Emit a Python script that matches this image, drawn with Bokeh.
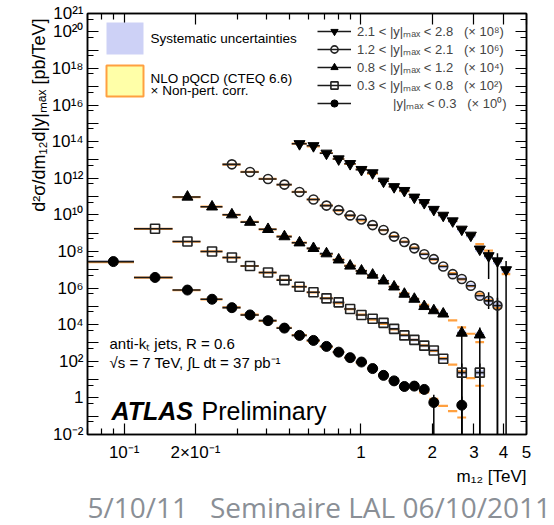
import math
from bokeh.plotting import figure
from bokeh.models import (ColumnDataSource, FixedTicker, LogAxis, Label, Legend,
                          LegendItem, BoxAnnotation, Range1d, Title)
from bokeh.embed import file_html
from bokeh.resources import INLINE

nan = float("nan")

# dijet mass bin edges [TeV]
bin_edges = [0.07, 0.11, 0.16, 0.21, 0.26, 0.31, 0.37, 0.44, 0.51, 0.59, 0.67, 0.76,
             0.85, 0.95, 1.06, 1.18, 1.31, 1.45, 1.60, 1.76, 1.94, 2.12, 2.33, 2.55,
             2.78, 3.04, 3.31, 3.61, 3.93, 4.27, 4.64]

# relative systematic uncertainty per bin
sys_rel = [0.15, 0.12, 0.11, 0.11, 0.11, 0.11, 0.12, 0.12, 0.12, 0.13, 0.13, 0.14, 0.15,
           0.16, 0.17, 0.18, 0.19, 0.20, 0.22, 0.24, 0.26, 0.28, 0.30, 0.33, 0.36, 0.40,
           0.45, 0.50, 0.55, 0.60]

# |y|max < 0.3  (x 10^0)
y03_first = 0
y03_data = [2.8e7, 3.8e6, 7.8e5, 2.45e5, 8.5e4, 3.4e4, 1.66e4, 6.5e3, 2.6e3, 1.38e3, 650, 316,
            158, 91, 40, 17, 8.5, 4.2, 4.4, 2.9, 0.56, nan, nan, 0.40]
y03_theory = [2.6e7, 3.7e6, 7.6e5, 2.4e5, 8.8e4, 3.5e4, 1.6e4, 6.8e3, 2.7e3, 1.3e3, 620, 320,
              160, 82, 40, 19, 9.0, 4.4, 3.6, 2.0, 0.9, 0.37, 0.19, 0.085]
y03_err_bin = [20, 23]
y03_err_lo = [1e-3, 1e-3]
y03_err_hi = [1.5, 1.2]

# 0.3 < |y|max < 0.8  (x 10^2)
y08_first = 1
y08_data = [1.74e9, 3.5e8, 1.0e8, 4.7e7, 1.6e7, 7.1e6, 2.7e6, 1.17e6, 5.9e5, 2.75e5, 1.66e5,
            7.2e4, 3.4e4, 2.1e4, 1.26e4, 5.9e3, 2.6e3, 1.48e3, 720, 390, 138, nan, 24, nan, 24]
y08_theory = [1.7e9, 3.4e8, 1.0e8, 4.6e7, 1.6e7, 7.0e6, 2.8e6, 1.2e6, 5.8e5, 2.8e5, 1.5e5,
              7.0e4, 3.5e4, 1.9e4, 1.1e4, 5.6e3, 2.8e3, 1.5e3, 740, 370, 150, 66, 28, 12, 4.6]
y08_err_bin = [23, 25]
y08_err_lo = [1e-3, 1e-3]
y08_err_hi = [75, 75]

# 0.8 < |y|max < 1.2  (x 10^4)
y12_first = 2
y12_data = [9.5e10, 2.75e10, 1.02e10, 4.0e9, 1.62e9, 6.5e8, 3.0e8, 1.48e8, 7.6e7, 3.5e7,
            1.62e7, 8.7e6, 5.2e6, 2.5e6, 1.17e6, 4.7e5, 2.5e5, 1.0e5, 5.9e4, 3.9e4, nan,
            3.5e3, nan, 2.8e3]
y12_theory = [9.3e10, 2.8e10, 1.0e10, 4.1e9, 1.6e9, 6.6e8, 3.0e8, 1.45e8, 7.2e7, 3.6e7,
              1.7e7, 8.8e6, 4.8e6, 2.4e6, 1.2e6, 5.2e5, 2.6e5, 1.2e5, 6.4e4, 3.6e4, 1.7e4,
              7.2e3, 3.2e3, 1.1e3]
y12_err_bin = [23, 25]
y12_err_lo = [1e-3, 1e-3]
y12_err_hi = [8e3, 7e3]

# 1.2 < |y|max < 2.1  (x 10^6)
y21_first = 4
y21_data = [5.75e12, 2.2e12, 9.1e11, 4.5e11, 1.78e11, 6.9e10, 3.2e10, 1.82e10, 9.3e9, 5.6e9,
            2.75e9, 1.48e9, 6.5e8, 3.3e8, 1.48e8, 7.1e7, 3.8e7, 1.51e7, 5.75e6, 3.1e6,
            1.35e6, 3.8e5, 2.0e5, 1.1e5]
y21_theory = [5.6e12, 2.2e12, 9.3e11, 4.4e11, 1.8e11, 7.0e10, 3.3e10, 1.7e10, 9.0e9, 5.0e9,
              2.7e9, 1.45e9, 6.8e8, 3.5e8, 1.6e8, 7.5e7, 3.6e7, 1.6e7, 6.5e6, 3.0e6, 1.3e6,
              5.0e5, 2.2e5, 8.0e4]
y21_err_bin = [26, 27]
y21_err_lo = [7.2e4, 1e-3]
y21_err_hi = [6.0e5, 3.0e5]

# 2.1 < |y|max < 2.8  (x 10^8)
y28_first = 8
y28_data = [7.6e13, 5.9e13, 2.3e13, 1.12e13, 6.2e12, 2.95e12, 1.95e12, 6.8e11, 3.4e11, 2.1e11,
            9.1e10, 4.6e10, 1.95e10, 9.3e9, 4.6e9, 1.62e9, 7.6e8, 1.32e8, 5.75e7, 3.0e7, 9.8e6]
y28_theory = [7.8e13, 5.5e13, 2.4e13, 1.15e13, 6.0e12, 3.1e12, 1.8e12, 7.2e11, 3.6e11, 2.0e11,
              9.5e10, 4.6e10, 2.1e10, 1.0e10, 4.6e9, 2.0e9, 9.0e8, 2.5e8, 1.1e8, 3.2e7, 5.8e6]
y28_err_bin = [26, 27, 28]
y28_err_lo = [3.1e6, 1e-3, 1e-3]
y28_err_hi = [1.2e8, 8e7, 3e7]

series_labels = [
    "2.1 < |y|\u2098\u2090\u2093 < 2.8\u00a0\u00a0\u00a0(\u00d7 10\u2078)",
    "1.2 < |y|\u2098\u2090\u2093 < 2.1\u00a0\u00a0\u00a0(\u00d7 10\u2076)",
    "0.8 < |y|\u2098\u2090\u2093 < 1.2\u00a0\u00a0\u00a0(\u00d7 10\u2074)",
    "0.3 < |y|\u2098\u2090\u2093 < 0.8\u00a0\u00a0\u00a0(\u00d7 10\u00b2)",
    "\u00a0" * 10 + "|y|\u2098\u2090\u2093 < 0.3\u00a0\u00a0\u00a0(\u00d7 10\u2070)",
]
y_title = "d\u00b2\u03c3/dm\u2081\u2082d|y|\u2098\u2090\u2093  [pb/TeV]"
x_title = "m\u2081\u2082 [TeV]"

x_major = [0.1, 0.2, 1, 2, 3, 4, 5]
x_minor = [0.07, 0.08, 0.09, 0.3, 0.4, 0.5, 0.6, 0.7, 0.8, 0.9]
x_labels = {0.1: "10\u207b\u00b9", 0.2: "2\u00d710\u207b\u00b9", 1: "1", 2: "2", 3: "3",
            4: "4", 5: "5"}

y_major = [1e-2, 1e-1, 1e0, 1e1, 1e2, 1e3, 1e4, 1e5, 1e6, 1e7, 1e8, 1e9, 1e10, 1e11, 1e12,
           1e13, 1e14, 1e15, 1e16, 1e17, 1e18, 1e19, 1e20, 1e21]
y_minor = [5e-2, 5e-1, 5e0, 5e1, 5e2, 5e3, 5e4, 5e5, 5e6, 5e7, 5e8, 5e9, 5e10, 5e11, 5e12,
           5e13, 5e14, 5e15, 5e16, 5e17, 5e18, 5e19, 5e20]
y_labels = {1e-2: "10\u207b\u00b2", 1e0: "1", 1e2: "10\u00b2", 1e4: "10\u2074",
            1e6: "10\u2076", 1e8: "10\u2078", 1e10: "10\u00b9\u2070", 1e12: "10\u00b9\u00b2",
            1e14: "10\u00b9\u2074", 1e16: "10\u00b9\u2076", 1e18: "10\u00b9\u2078",
            1e20: "10\u00b2\u2070", 1e21: "10\u00b2\u00b9"}

FONT = "Liberation Sans"
SYS_COLOR = "#cdd1f6"
TH_COLOR = "#ffa040"

p = figure(width=554, height=525, x_axis_type="log", y_axis_type="log",
           x_range=Range1d(0.07, 5), y_range=Range1d(1e-2, 1e21),
           output_backend="svg", toolbar_location=None,
           min_border_left=87, min_border_right=28, min_border_top=13, min_border_bottom=89)
p.xgrid.visible = False
p.ygrid.visible = False
p.outline_line_color = "black"
p.outline_line_width = 1.5
p.background_fill_color = "white"
p.border_fill_color = "white"

bottom_axis = p.below[0]
left_axis = p.left[0]
top_axis = LogAxis()
right_axis = LogAxis()
p.add_layout(top_axis, "above")
p.add_layout(right_axis, "right")

for ax, ticks, minor, labels in [(bottom_axis, x_major, x_minor, x_labels),
                                 (top_axis, x_major, x_minor, {}),
                                 (left_axis, y_major, y_minor, y_labels),
                                 (right_axis, y_major, y_minor, {})]:
    ax.ticker = FixedTicker(ticks=ticks, minor_ticks=minor)
    ax.major_tick_in = 11
    ax.major_tick_out = 0
    ax.minor_tick_in = 6
    ax.minor_tick_out = 0
    ax.axis_line_width = 1.5
    ax.major_tick_line_width = 1.2
    ax.minor_tick_line_width = 1.2
    ax.axis_label = None
    ax.major_label_overrides = {t: labels.get(t, "") for t in ticks}
    ax.major_label_text_font = FONT
    ax.major_label_text_font_size = "17px"
    ax.major_label_text_color = "black"

bottom_axis.major_label_standoff = 8
left_axis.major_label_standoff = 4
top_axis.major_label_standoff = 0
right_axis.major_label_standoff = 0

# y-axis title, at the top end of the axis
y_title_done = False
try:
    left_axis.axis_label_align = "right"
    left_axis.axis_label = y_title
    left_axis.axis_label_standoff = -8
    left_axis.axis_label_text_font = FONT
    left_axis.axis_label_text_font_size = "18px"
    left_axis.axis_label_text_font_style = "normal"
    left_axis.axis_label_text_color = "black"
    y_title_done = True
except Exception:
    left_axis.axis_label = None

series = [
    ("y28", y28_first, y28_data, y28_theory, y28_err_bin, y28_err_lo, y28_err_hi,
     "inverted_triangle", True, 11),
    ("y21", y21_first, y21_data, y21_theory, y21_err_bin, y21_err_lo, y21_err_hi,
     "circle", False, 10),
    ("y12", y12_first, y12_data, y12_theory, y12_err_bin, y12_err_lo, y12_err_hi,
     "triangle", True, 11),
    ("y08", y08_first, y08_data, y08_theory, y08_err_bin, y08_err_lo, y08_err_hi,
     "square", False, 10),
    ("y03", y03_first, y03_data, y03_theory, y03_err_bin, y03_err_lo, y03_err_hi,
     "circle", True, 10),
]

srcs = []
for name, first, data, theory, eb, elo, ehi, marker, filled, size in series:
    n_th = len(theory)
    left = bin_edges[first:first + n_th]
    right = bin_edges[first + 1:first + 1 + n_th]
    center = [(a + b) / 2 for a, b in zip(left, right)]
    dat = list(data) + [nan] * (n_th - len(data))
    rel = sys_rel[first:first + n_th]
    s_top = [d * (1 + r) for d, r in zip(dat, rel)]
    s_bot = [d / (1 + r) for d, r in zip(dat, rel)]
    src = ColumnDataSource(dict(left=left, right=right, x=center, y=dat, th=list(theory),
                                top=s_top, bot=s_bot))
    srcs.append((name, src, marker, filled, size, eb, elo, ehi, first))

for name, src, *_ in srcs:
    p.quad(left="left", right="right", top="top", bottom="bot", source=src,
           fill_color=SYS_COLOR, line_color=None)
for name, src, *_ in srcs:
    p.segment(x0="left", x1="right", y0="th", y1="th", source=src,
              line_color=TH_COLOR, line_width=2.2)
rend = {}
for name, src, marker, filled, size, eb, elo, ehi, first in srcs:
    xr = p.segment(x0="left", x1="right", y0="y", y1="y", source=src,
                   line_color="#1a1a1a", line_width=1.6)
    ex = [(bin_edges[i] + bin_edges[i + 1]) / 2 for i in eb]
    p.segment(x0=ex, x1=ex, y0=elo, y1=ehi, line_color="black", line_width=1.5)
    if filled:
        mr = p.scatter(x="x", y="y", source=src, marker=marker, size=size,
                       fill_color="black", line_color="black")
    else:
        mr = p.scatter(x="x", y="y", source=src, marker=marker, size=size - 1,
                       fill_alpha=0, line_color="#222222", line_width=1.6)
    rend[name] = (xr, mr)

order = ["y28", "y21", "y12", "y08", "y03"]
legend_items = [LegendItem(label=lab, renderers=list(rend[nm]))
                for lab, nm in zip(series_labels, order)]

legend = Legend(items=legend_items, location=(230, 322), glyph_width=34, glyph_height=18,
                label_height=18, spacing=0, padding=0, margin=0, label_standoff=6,
                background_fill_alpha=0, border_line_alpha=0,
                label_text_font=FONT, label_text_font_size="13px")
p.add_layout(legend)

p.add_layout(BoxAnnotation(left=19, right=56, top=412, bottom=380, left_units="screen",
                           right_units="screen", top_units="screen", bottom_units="screen",
                           fill_color=SYS_COLOR, fill_alpha=1, line_color=None))
p.add_layout(BoxAnnotation(left=19, right=56, top=369, bottom=338, left_units="screen",
                           right_units="screen", top_units="screen", bottom_units="screen",
                           fill_color="#ffffa8", fill_alpha=1, line_color=TH_COLOR,
                           line_width=2, line_alpha=1))


def add_text(txt, x, y, size, font=FONT, style="normal", color="black", align="left",
             baseline="middle", angle=0.0):
    p.add_layout(Label(x=x, y=y, x_units="screen", y_units="screen", text=txt,
                       text_font=font, text_font_size=size, text_font_style=style,
                       text_color=color, text_align=align, text_baseline=baseline,
                       angle=angle))


add_text("Systematic uncertainties", 63, 396, "13.5px")
add_text("NLO pQCD (CTEQ 6.6)", 63, 356, "13.5px")
add_text("\u00d7 Non-pert. corr.", 63, 344, "13.5px")
add_text("anti-k\u209c  jets,  R = 0.6", 22, 91, "15px")
add_text("\u221as = 7 TeV, \u222bL dt = 37 pb\u207b\u00b9", 22, 72, "15px")
add_text("ATLAS", 24, 24, "25px", style="bold italic")
add_text("Preliminary", 114, 24, "25px")

# texts outside the frame: titles in the side panels
if not y_title_done:
    p.add_layout(Title(text=y_title, align="right", text_font=FONT, text_font_size="18px",
                       text_font_style="normal", text_color="black", standoff=0), "left")
p.add_layout(Title(text=x_title, align="right", text_font=FONT,
                   text_font_size="17px", text_font_style="normal", text_color="black",
                   standoff=0), "below")
p.add_layout(Title(text="5/10/11\u00a0\u00a0\u00a0Seminaire LAL 06/10/2011", align="left",
                   text_font="Open Sans", text_font_size="28px", text_font_style="normal",
                   text_color="#8a8f96", standoff=0), "below")

open("out.html", "w").write(file_html(p, INLINE))
